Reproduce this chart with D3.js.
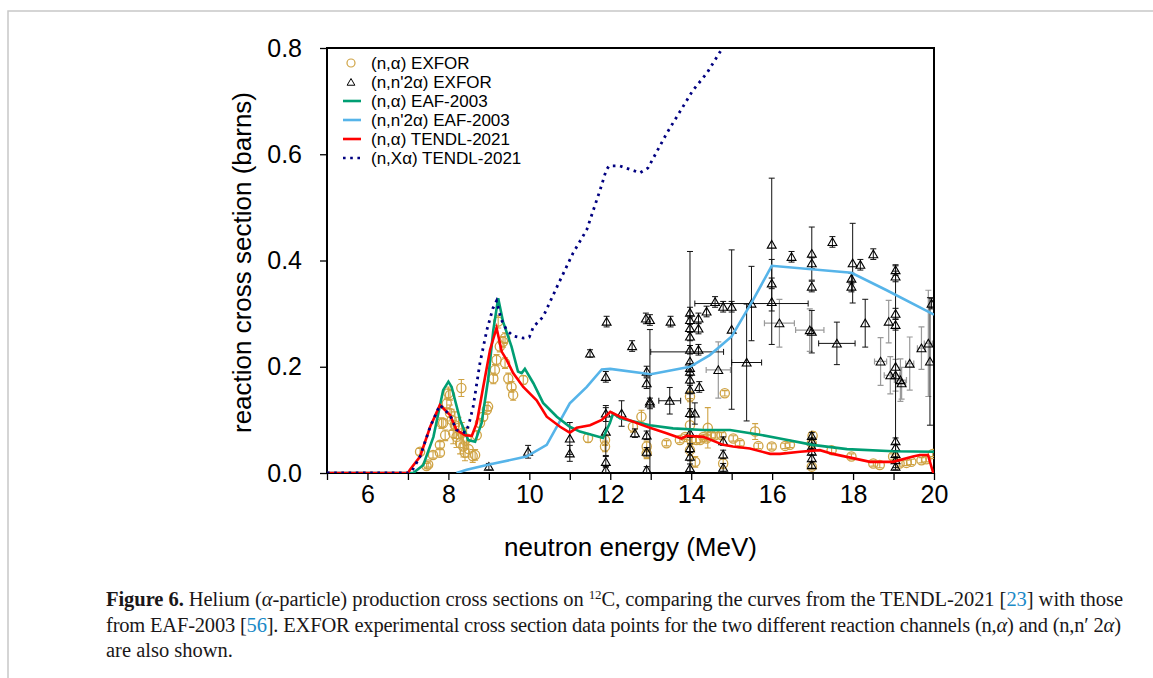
<!DOCTYPE html>
<html>
<head>
<meta charset="utf-8">
<script src="https://cdn.jsdelivr.net/npm/d3@7"></script>
<style>
  body { margin: 0; background: #fff; }
  svg { display: block; }
  .tick text { font-family: "Liberation Sans", Arial, sans-serif; }
</style>
</head>
<body>
<div id="chart"></div>
<script>
// ---- data: [energy MeV, cross section b, yerr, xerr] ----
const tendlXa = [[5,0],[7.0,0],[7.1,0.004],[7.3,0.031],[7.55,0.087],[7.79,0.128],[8.04,0.109],[8.2,0.081],[8.42,0.076],
  [8.5,0.09],[8.61,0.124],[8.78,0.207],[8.95,0.269],[9.1,0.31],[9.19,0.324],[9.3,0.29],[9.44,0.269],[9.6,0.258],
  [9.85,0.254],[10.0,0.256],[10.1,0.275],[10.34,0.294],[10.68,0.35],[11.08,0.414],[11.42,0.458],[11.75,0.533],
  [11.9,0.57],[11.97,0.578],[12.24,0.578],[12.73,0.565],[12.93,0.574],[13.4,0.64],[14.04,0.72],[14.39,0.753],
  [14.74,0.796],[15.0,0.83]];

const tendlNa = [[5,0],[7.0,0],[7.05,0.006],[7.3,0.031],[7.55,0.087],[7.79,0.128],[8.04,0.109],[8.2,0.081],
  [8.41,0.071],[8.58,0.070],[8.7,0.094],[8.86,0.162],[9.03,0.232],[9.19,0.273],[9.32,0.228],[9.44,0.213],
  [9.6,0.188],[9.85,0.162],[10.18,0.137],[10.43,0.106],[10.76,0.087],[11.0,0.076],[11.17,0.085],[11.5,0.09],
  [11.79,0.10],[12.0,0.115],[12.24,0.106],[12.98,0.085],[13.39,0.075],[13.76,0.065],[13.89,0.07],[14.3,0.068],
  [14.79,0.053],[15.03,0.05],[15.45,0.046],[15.95,0.036],[16.19,0.036],[16.69,0.04],[17.18,0.043],[17.5,0.036],
  [18.42,0.021],[18.99,0.021],[19.48,0.031],[19.65,0.034],[19.85,0.034],[19.97,0.003],[20,0]];

const eafNa = [[5,0],[7.13,0],[7.38,0.015],[7.63,0.068],[7.87,0.156],[8.0,0.172],[8.08,0.162],[8.29,0.1],
  [8.49,0.062],[8.66,0.059],[8.82,0.094],[8.98,0.175],[9.11,0.269],[9.23,0.329],[9.35,0.285],[9.56,0.238],
  [9.72,0.191],[9.81,0.188],[9.89,0.196],[10.1,0.169],[10.34,0.132],[10.68,0.106],[11.0,0.087],[11.25,0.078],
  [11.82,0.066],[11.99,0.094],[12.07,0.112],[12.24,0.103],[12.98,0.09],[13.55,0.084],[14.3,0.081],[14.96,0.081],
  [15.7,0.072],[16.19,0.065],[17.0,0.053],[17.85,0.045],[18.99,0.041],[20,0.04]];

const eafN2a = [[8.2,0],[8.45,0.006],[8.95,0.015],[9.93,0.031],[10.43,0.053],[11.0,0.131],[11.42,0.162],
  [11.79,0.195],[12.0,0.196],[13.0,0.186],[13.97,0.2],[14.46,0.222],[15.0,0.257],[15.53,0.326],[15.99,0.39],
  [17.96,0.377],[18.83,0.344],[20,0.298]];

const exforNa = [[7.3,0.040,0.006],[7.46,0.013,0.005],[7.5,0.016,0.005],[7.62,0.034,0.006],[7.79,0.038,0.006],
  [7.79,0.053,0.006],[7.83,0.094,0.01],[7.87,0.094,0.008],[7.92,0.071,0.01],[7.96,0.131,0.01],[8.0,0.15,0.012],
  [8.04,0.147,0.01],[8.04,0.113,0.015],[8.08,0.1,0.02],[8.12,0.075,0.02],[8.16,0.09,0.025],[8.2,0.068,0.02],
  [8.25,0.085,0.02],[8.29,0.056,0.02],[8.33,0.075,0.02],[8.37,0.05,0.02],[8.41,0.038,0.015],[8.45,0.065,0.02],
  [8.5,0.045,0.015],[8.32,0.16,0.016],[8.6,0.032,0.012],[8.66,0.034,0.01],[8.7,0.071,0.008],[8.78,0.094,0.008],
  [8.86,0.106,0.008],[8.95,0.119,0.008],[8.98,0.125,0.008],[9.11,0.178,0.01],[9.15,0.194,0.01],[9.19,0.213,0.01],
  [9.23,0.285,0.012],[9.27,0.238,0.01],[9.35,0.247,0.01],[9.4,0.254,0.01],[9.4,0.207,0.01],[9.48,0.178,0.01],
  [9.56,0.162,0.01],[9.6,0.147,0.01],[9.85,0.175,0.008],[11.45,0.066,0.008],[11.87,0.05,0.01],[11.87,0.062,0.01],
  [12.56,0.087,0.01],[12.77,0.106,0.012],[12.9,0.037,0.01],[12.9,0.05,0.01],[13.39,0.056,0.005],[13.72,0.062,0.005],
  [13.85,0.068,0.005],[13.97,0.144,0.01],[13.97,0.043,0.01],[13.97,0.09,0.05],[14.0,0.062,0.005],[14.1,0.021,0.01],
  [14.13,0.062,0.005],[14.22,0.062,0.005],[14.3,0.068,0.005],[14.38,0.065,0.005],[14.41,0.085,0.038],
  [14.5,0.071,0.005],[14.59,0.071,0.005],[14.75,0.071,0.005],[14.79,0.018,0.01],[14.83,0.15,0.005],
  [15.04,0.065,0.005],[15.2,0.056,0.005],[15.58,0.078,0.015],[15.66,0.051,0.005],[15.99,0.05,0.005],
  [16.32,0.051,0.005],[16.44,0.053,0.005],[16.98,0.056,0.005],[16.98,0.012,0.005],[17.0,0.07,0.008],
  [17.47,0.043,0.005],[17.96,0.031,0.005],[18.5,0.018,0.005],[18.66,0.015,0.005],[18.99,0.031,0.005],
  [19.15,0.018,0.005],[19.32,0.019,0.005],[19.44,0.021,0.005],[19.69,0.024,0.005],[19.81,0.026,0.005],
  [19.97,0.036,0.005]];

// (n,n'2a) EXFOR, two groups of data sets (dark and light error bars)
const exforN2aDark = [[9.0,0.012,0.006,0],[9.97,0.04,0.012,0],[11.0,0.065,0.03,0],[11.0,0.037,0.015,0],
  [11.5,0.225,0.007,0],[11.91,0.285,0.01,0],[11.89,0.181,0.01,0],[11.89,0.112,0.015,0],[11.89,0.078,0.045,0],
  [11.89,0.021,0.01,0],[11.89,0.006,0.006,0],[12.28,0.112,0.024,0],[12.54,0.239,0.01,0],[12.61,0.075,0.008,0],
  [12.88,0.291,0.01,0],[12.98,0.288,0.01,0],[12.9,0.191,0.01,0],[12.9,0.169,0.01,0],[12.98,0.131,0.01,0],
  [12.98,0.135,0.135,0],[12.9,0.071,0.008,0],[12.9,0.04,0.008,0],[12.9,0.006,0.006,0],[13.49,0.285,0.01,0],
  [13.47,0.136,0.025,0.27],[13.9,0.228,0,0.9],[13.97,0.302,0.01,0],[13.97,0.288,0.008,0],[13.97,0.273,0.008,0],
  [13.97,0.257,0.008,0],[13.97,0.232,0.008,0],[13.97,0.21,0.207,0],[13.97,0.198,0.008,0],[13.97,0.191,0.008,0],
  [13.97,0.176,0.008,0],[13.97,0.157,0.008,0],[13.97,0.113,0.008,0],[13.97,0.075,0.008,0],[13.97,0.047,0.008,0],
  [13.97,0.031,0.008,0],[13.97,0.009,0.008,0],[14.09,0.112,0.02,0],[14.18,0.291,0.01,0],[14.18,0.272,0.01,0],
  [14.18,0.232,0.01,0],[14.2,0.162,0.01,0],[14.38,0.304,0.01,0],[14.59,0.322,0.01,0],[14.79,0.313,0.01,0],
  [14.79,0.06,0.008,0],[14.79,0.035,0.008,0],[14.79,0.01,0.008,0],[15.0,0.313,0.01,0],[15.49,0.319,0.07,1.4],
  [15.0,0.27,0.15,0],[15.37,0.208,0.11,0.37],[15.99,0.43,0.125,0],[15.99,0.357,0.01,0],[15.99,0.322,0.08,0],
  [16.48,0.407,0.01,0],[16.98,0.413,0.05,0],[16.98,0.395,0.01,0],[16.98,0.351,0.01,0],[16.98,0.266,0.04,0],
  [16.98,0.07,0.006,0],[16.98,0.06,0.006,0],[16.98,0.05,0.006,0],[16.98,0.04,0.006,0],[16.98,0.028,0.006,0],
  [16.98,0.015,0.006,0],[17.49,0.435,0.01,0],[17.6,0.244,0.04,0.45],[17.99,0.395,0.075,0],[17.96,0.366,0.01,0],
  [17.96,0.351,0.01,0],[18.18,0.392,0.01,0],[18.3,0.282,0.045,0],[18.5,0.412,0.01,0],[19.05,0.382,0.01,0],
  [19.05,0.37,0.01,0],[19.05,0.3,0.01,0],[19.05,0.279,0.01,0],[19.05,0.2,0.19,0],[19.05,0.06,0.006,0],
  [19.05,0.048,0.006,0],[19.05,0.036,0.006,0],[19.05,0.024,0.006,0],[19.05,0.012,0.006,0],[19.94,0.319,0.01,0],
  [19.9,0.21,0.12,0]];

const exforN2aLight = [[16.18,0.282,0.045,0.37],[16.93,0.269,0.04,0.35],[18.68,0.21,0.045,0.15],
  [18.88,0.285,0.04,0],[18.92,0.184,0.035,0.15],[19.17,0.175,0.04,0.15],[19.2,0.169,0.03,0.1],
  [19.4,0.206,0.05,0.1],[19.69,0.235,0.04,0.1],[19.86,0.244,0.1,0.1],[14.67,0.194,0.053,0.3],[19.05,0.184,0.03,0.1]];

const yTicks = [0, 0.2, 0.4, 0.6, 0.8];
const xTicks = d3.range(5, 21);

const legendItems = [
  { label: "(n,\u03b1) EXFOR", kind: "circle" },
  { label: "(n,n'2\u03b1) EXFOR", kind: "triangle" },
  { label: "(n,\u03b1) EAF-2003", kind: "line", color: "#009E73" },
  { label: "(n,n'2\u03b1) EAF-2003", kind: "line", color: "#56B4E9" },
  { label: "(n,\u03b1) TENDL-2021", kind: "line", color: "#FF0000" },
  { label: "(n,X\u03b1) TENDL-2021", kind: "dots", color: "#000080" }
];

const gold = "#CFA344";
const W = 1153, H = 678;
const plot = { left: 327, right: 934, top: 48, bottom: 473 };

const svg = d3.select("#chart").append("svg").attr("width", W).attr("height", H);

// page frame
svg.append("path").attr("d", `M8,${H} V11 H${W}`).attr("fill", "none")
  .attr("stroke", "#c8c8c8").attr("stroke-width", 1.5);

const x = d3.scaleLinear().domain([5, 20]).range([plot.left, plot.right]);
const y = d3.scaleLinear().domain([0, 0.8]).range([plot.bottom, plot.top]);

svg.append("clipPath").attr("id", "clip").append("rect")
  .attr("x", plot.left).attr("y", plot.top)
  .attr("width", plot.right - plot.left).attr("height", plot.bottom - plot.top);

// axes
const xAxis = svg.append("g").attr("transform", `translate(0,${plot.bottom})`)
  .call(d3.axisBottom(x).tickValues(xTicks).tickSize(7).tickPadding(5)
    .tickFormat(d => d % 2 === 0 && d > 5 ? d : ""));
const yAxis = svg.append("g").attr("transform", `translate(${plot.left},0)`)
  .call(d3.axisLeft(y).tickValues(yTicks).tickSize(7).tickPadding(18).tickFormat(d3.format(".1f")));
[xAxis, yAxis].forEach(a => {
  a.select(".domain").remove();
  a.selectAll(".tick line").attr("stroke", "#000").attr("stroke-width", 1.3);
  a.selectAll(".tick text").attr("font-size", 25).attr("fill", "#000");
});

svg.append("rect").attr("x", plot.left).attr("y", plot.top)
  .attr("width", plot.right - plot.left).attr("height", plot.bottom - plot.top)
  .attr("fill", "none").attr("stroke", "#000").attr("stroke-width", 2);

svg.append("text").attr("x", (plot.left + plot.right) / 2).attr("y", 556)
  .attr("text-anchor", "middle").attr("font-family", "Liberation Sans, Arial, sans-serif")
  .attr("font-size", 26).text("neutron energy (MeV)");
svg.append("text").attr("transform", `translate(251,${(plot.top + plot.bottom) / 2 + 2}) rotate(-90)`)
  .attr("text-anchor", "middle").attr("font-family", "Liberation Sans, Arial, sans-serif")
  .attr("font-size", 26).text("reaction cross section (barns)");

const g = svg.append("g").attr("clip-path", "url(#clip)");

// error bars with caps
function errorBars(data, color, width) {
  const cap = 3;
  const eg = g.append("g").attr("stroke", color).attr("stroke-width", width).attr("fill", "none");
  data.forEach(d => {
    const cx = x(d[0]), cy = y(d[1]);
    if (d[2] > 0) {
      const y0 = y(d[1] - d[2]), y1 = y(d[1] + d[2]);
      eg.append("path").attr("d", `M${cx},${y0}V${y1}M${cx - cap},${y0}h${2 * cap}M${cx - cap},${y1}h${2 * cap}`);
    }
    if (d[3] > 0) {
      const x0 = x(d[0] - d[3]), x1 = x(d[0] + d[3]);
      eg.append("path").attr("d", `M${x0},${cy}H${x1}M${x0},${cy - cap}v${2 * cap}M${x1},${cy - cap}v${2 * cap}`);
    }
  });
}

errorBars(exforNa, gold, 1.1);
g.append("g").selectAll("circle").data(exforNa).enter().append("circle")
  .attr("cx", d => x(d[0])).attr("cy", d => y(d[1])).attr("r", 4.6)
  .attr("fill", "none").attr("stroke", gold).attr("stroke-width", 1.3);

errorBars(exforN2aLight, "#9a9a9a", 1.2);
errorBars(exforN2aDark, "#111", 1);
const tri = d3.symbol().type(d3.symbolTriangle).size(34);
g.append("g").selectAll("path").data(exforN2aDark.filter(d => d[2] !== 0 || d[3] === 0).concat(exforN2aLight))
  .enter().append("path")
  .attr("d", tri).attr("transform", d => `translate(${x(d[0])},${y(d[1]) + 1})`)
  .attr("fill", "none").attr("stroke", "#000").attr("stroke-width", 1.1);

// model curves
const line = d3.line().x(d => x(d[0])).y(d => y(d[1]));
g.append("path").datum(eafN2a).attr("d", line).attr("fill", "none").attr("stroke", "#56B4E9").attr("stroke-width", 2.6);
g.append("path").datum(eafNa).attr("d", line).attr("fill", "none").attr("stroke", "#009E73").attr("stroke-width", 2.6);
g.append("path").datum(tendlNa).attr("d", line).attr("fill", "none").attr("stroke", "#FF0000").attr("stroke-width", 2.6);
g.append("path").datum(tendlXa).attr("d", line).attr("fill", "none").attr("stroke", "#000080")
  .attr("stroke-width", 2.8).attr("stroke-dasharray", "2.6,4.6");

// legend
const lg = svg.append("g").attr("font-family", "Liberation Sans, Arial, sans-serif").attr("font-size", 17);
legendItems.forEach((item, i) => {
  const ly = 63 + i * 19;
  if (item.kind === "circle") {
    lg.append("circle").attr("cx", 351).attr("cy", ly).attr("r", 4).attr("fill", "none")
      .attr("stroke", gold).attr("stroke-width", 1.2);
  } else if (item.kind === "triangle") {
    lg.append("path").attr("d", d3.symbol().type(d3.symbolTriangle).size(26)).attr("transform", `translate(351,${ly + 1})`)
      .attr("fill", "none").attr("stroke", "#000").attr("stroke-width", 1);
  } else {
    lg.append("line").attr("x1", 343).attr("x2", 361).attr("y1", ly).attr("y2", ly)
      .attr("stroke", item.color).attr("stroke-width", 2.6)
      .attr("stroke-dasharray", item.kind === "dots" ? "2.6,4.6" : null);
  }
  lg.append("text").attr("x", 371).attr("y", ly).attr("dy", "0.36em").text(item.label);
});

// caption
const cap = svg.append("g").attr("font-family", "Liberation Serif, Times New Roman, serif")
  .attr("font-size", 20.5).attr("fill", "#1a1718");
const refBlue = "#1b8ac7";
const l1 = cap.append("text").attr("x", 106).attr("y", 606).attr("textLength", 1017).attr("lengthAdjust", "spacing");
l1.append("tspan").attr("font-weight", "bold").text("Figure 6.");
l1.append("tspan").text(" Helium (");
l1.append("tspan").attr("font-style", "italic").text("\u03b1");
l1.append("tspan").text("-particle) production cross sections on ");
l1.append("tspan").attr("font-size", 13).attr("dy", -7).text("12");
l1.append("tspan").attr("dy", 7).text("C, comparing the curves from the TENDL-2021 [");
l1.append("tspan").attr("fill", refBlue).text("23");
l1.append("tspan").text("] with those");

const l2 = cap.append("text").attr("x", 106).attr("y", 632).attr("textLength", 1015).attr("lengthAdjust", "spacing");
l2.append("tspan").text("from EAF-2003 [");
l2.append("tspan").attr("fill", refBlue).text("56");
l2.append("tspan").text("]. EXFOR experimental cross section data points for the two different reaction channels (n,");
l2.append("tspan").attr("font-style", "italic").text("\u03b1");
l2.append("tspan").text(") and (n,n\u2032 2");
l2.append("tspan").attr("font-style", "italic").text("\u03b1");
l2.append("tspan").text(")");

cap.append("text").attr("x", 106).attr("y", 657).text("are also shown.");
</script>
</body>
</html>
